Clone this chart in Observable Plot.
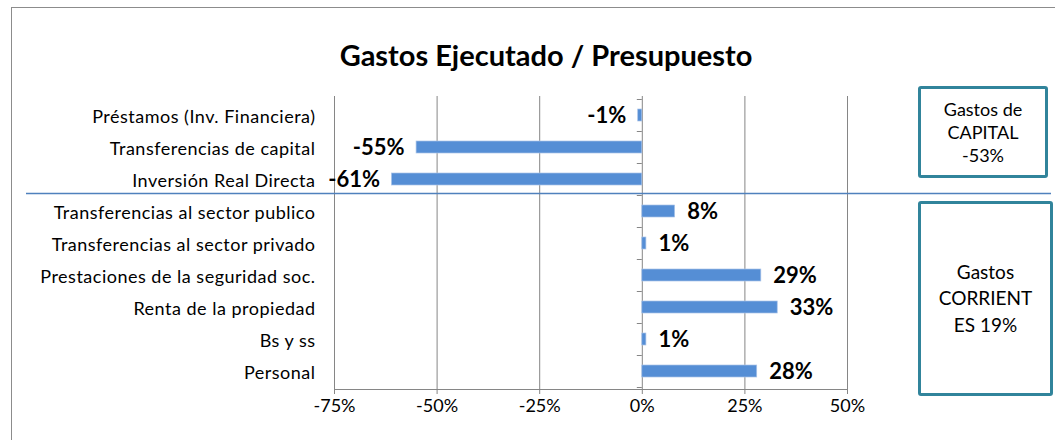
<!DOCTYPE html>
<html>
<head>
<meta charset="utf-8">
<script src="https://cdn.jsdelivr.net/npm/d3@7"></script>
<script src="https://cdn.jsdelivr.net/npm/@observablehq/plot@0.6"></script>
<style>
  html, body { margin: 0; padding: 0; background: #fff; }
  #wrap { position: relative; width: 1055px; height: 440px; overflow: hidden; font-family: Lato, "Open Sans", sans-serif; }
  #border { position: absolute; left: 11px; top: 7px; width: 1060px; height: 460px; border: 1px solid #8c8c8c; box-sizing: border-box; }
  .box { position: absolute; border: 3px solid #31849b; border-radius: 3px; box-sizing: border-box; background: #fff;
         display: flex; align-items: center; justify-content: center; text-align: center; color: #000; }
  #chart { position: absolute; left: 0; top: 0; }
  #chart svg g[aria-label="y-axis tick label"] text { letter-spacing: 0.5px; }
</style>
</head>
<body>
<div id="wrap">
  <div id="border"></div>
  <div id="chart"></div>
</div>
<script>
const title = "Gastos Ejecutado / Presupuesto";
const categories = [
  "Préstamos (Inv. Financiera)",
  "Transferencias de capital",
  "Inversión Real Directa",
  "Transferencias al sector publico",
  "Transferencias al sector privado",
  "Prestaciones de la seguridad soc.",
  "Renta de la propiedad",
  "Bs y ss",
  "Personal"
];
const values = [-0.01, -0.55, -0.61, 0.08, 0.01, 0.29, 0.33, 0.01, 0.28];
const xTicks = [-0.75, -0.5, -0.25, 0, 0.25, 0.5];
const groupSplitAfter = "Inversión Real Directa";
const boxCapital = ["Gastos de", "CAPITAL", "-53%"];
const boxCorriente = ["Gastos", "CORRIENT", "ES 19%"];

const data = categories.map((c, i) => ({cat: c, value: values[i]}));
const pct = d => Math.round(d * 100) + "%";

const W = 1055, H = 440;
const mL = 334, mR = W - 847, mT = 96, mB = H - 389;
const grid = "#868686";
const padIn = 0.64;

const chart = Plot.plot({
  width: W, height: H,
  marginLeft: mL, marginRight: mR, marginTop: mT, marginBottom: mB,
  style: {fontFamily: "Lato, 'Open Sans', sans-serif", color: "#000", background: "transparent", overflow: "visible"},
  x: {domain: [-0.75, 0.5], label: null},
  y: {domain: categories, paddingInner: padIn, paddingOuter: padIn / 2, label: null},
  marks: [
    Plot.ruleX(xTicks, {stroke: grid, strokeWidth: 1}),
    Plot.frame({anchor: "bottom", stroke: grid}),
    Plot.barX(data, {x: "value", y: "cat", fill: "#558ed5", stroke: "#a9c3e8", strokeWidth: 0.7}),
    Plot.text(data.filter(d => d.value < 0), {
      x: "value", y: "cat", text: d => pct(d.value), textAnchor: "end",
      dx: -12, dy: 0.5, fontWeight: "bold", fontSize: 22, fill: "#000"
    }),
    Plot.text(data.filter(d => d.value >= 0), {
      x: "value", y: "cat", text: d => pct(d.value), textAnchor: "start",
      dx: 12, dy: 0.5, fontWeight: "bold", fontSize: 22, fill: "#000"
    }),
    Plot.axisX({ticks: xTicks, tickFormat: pct, tickSize: 5, tickPadding: 5, fontSize: 18, stroke: grid, label: null}),
    Plot.axisY({tickSize: 0, tickPadding: 19, fontSize: 18, dy: 2, label: null}),
    Plot.text([title], {frameAnchor: "top", dx: -45, dy: -51, fontSize: 29, fontWeight: "bold", fill: "#000"})
  ]
});

document.getElementById("chart").appendChild(chart);

// category ticks at the zero line and the group separator, positioned from the scales
const xs = chart.scale("x");
const ys = chart.scale("y");
const step = ys.step;
const svg = d3.select(chart);
const top0 = ys.apply(categories[0]) - (step - ys.bandwidth) / 2;
const x0 = xs.apply(0);
const tickG = svg.append("g").attr("stroke", grid);
for (let i = 0; i <= categories.length; i++) {
  const yy = Math.round(top0 + i * step) + 0.5;
  tickG.append("line").attr("x1", x0 - 5).attr("x2", x0).attr("y1", yy).attr("y2", yy);
}
const splitIdx = categories.indexOf(groupSplitAfter) + 1;
const ySplit = Math.round(top0 + splitIdx * step) - 1.5;
svg.append("line").attr("x1", 26).attr("x2", 1051).attr("y1", ySplit).attr("y2", ySplit)
  .attr("stroke", "#4f81bd").attr("stroke-width", 1.3);

// annotation boxes
const wrap = document.getElementById("wrap");
function box(lines, left, top, w, h, fs, lh) {
  const d = document.createElement("div");
  d.className = "box";
  d.style.left = left + "px"; d.style.top = top + "px";
  d.style.width = w + "px"; d.style.height = h + "px";
  d.style.fontSize = fs + "px"; d.style.lineHeight = lh + "px";
  d.innerHTML = lines.join("<br>");
  wrap.appendChild(d);
}
box(boxCapital, 918, 86, 130, 92, 18, 23);
box(boxCorriente, 918, 201, 135, 195, 19, 26.5);
</script>
</body>
</html>
